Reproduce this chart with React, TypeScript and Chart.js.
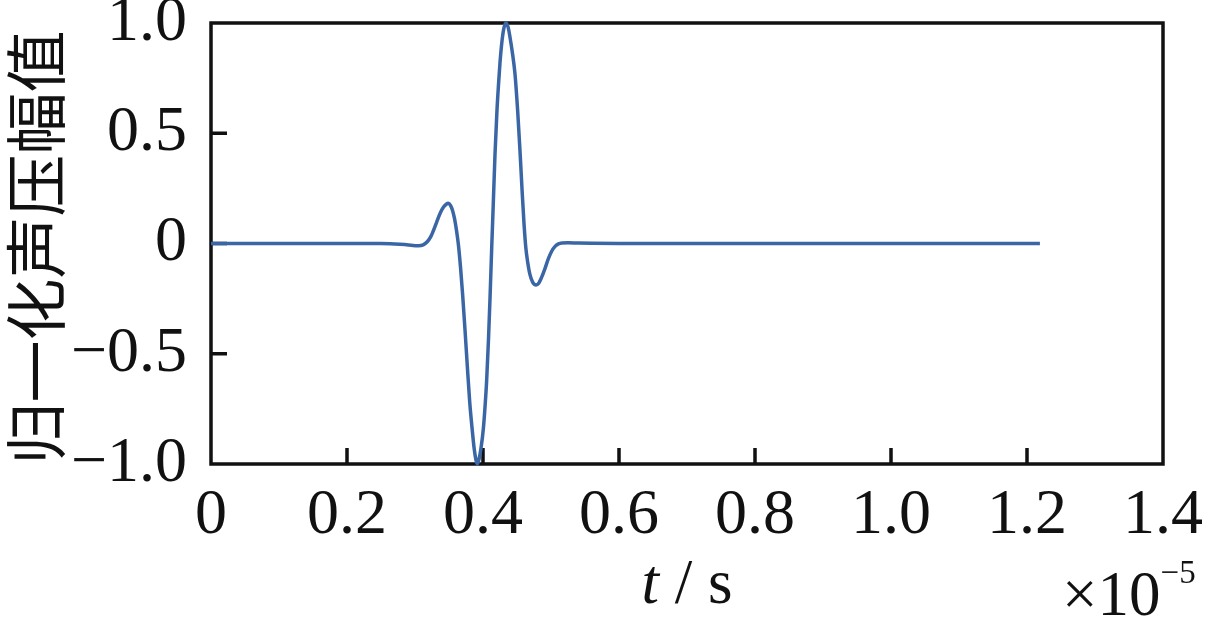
import React, { useEffect, useRef } from 'react';
import { Chart, registerables } from 'chart.js';

Chart.register(...registerables);

// time (×10^-5 s)
const timeValues = [
  0, 0.05, 0.1, 0.15, 0.2, 0.25, 0.27, 0.285, 0.297, 0.305, 0.312, 0.318, 0.323, 0.327,
  0.332, 0.337, 0.342, 0.346, 0.349, 0.352, 0.355, 0.358, 0.361, 0.364, 0.367, 0.37,
  0.3735, 0.377, 0.3805, 0.384, 0.387, 0.3895, 0.3916, 0.394, 0.397, 0.4005, 0.403,
  0.4054, 0.408, 0.4103, 0.4128, 0.415, 0.4176, 0.4205, 0.423, 0.425, 0.428, 0.431,
  0.4338, 0.437, 0.44, 0.443, 0.447, 0.451, 0.4544, 0.4575, 0.4603, 0.463, 0.4655,
  0.469, 0.473, 0.478, 0.482, 0.486, 0.491, 0.496, 0.501, 0.506, 0.511, 0.516, 0.525,
  0.54, 0.56, 0.6, 0.7, 0.8, 0.9, 1.0, 1.1, 1.219,
];

// normalized sound pressure amplitude
const amplitudeValues = [
  0, 0, 0, 0, 0, 0, -0.002, -0.005, -0.009, -0.01, -0.006, 0.008, 0.03, 0.058,
  0.098, 0.137, 0.165, 0.178, 0.182, 0.174, 0.152, 0.115, 0.06, -0.01, -0.11, -0.23,
  -0.39, -0.56, -0.72, -0.84, -0.93, -0.98, -1.0, -0.98, -0.93, -0.84, -0.74,
  -0.62, -0.44, -0.25, -0.02, 0.17, 0.4, 0.6, 0.73, 0.82, 0.92, 0.98,
  1.0, 0.98, 0.93, 0.87, 0.77, 0.6, 0.42, 0.24, 0.09, -0.02, -0.08,
  -0.14, -0.175, -0.188, -0.18, -0.155, -0.115, -0.07, -0.035, -0.013, -0.002, 0.002, 0.003,
  0.002, 0.001, 0, 0, 0, 0, 0, 0, 0,
];

const xTickValues = [0, 0.2, 0.4, 0.6, 0.8, 1.0, 1.2, 1.4];
const xTickLabels = ['0', '0.2', '0.4', '0.6', '0.8', '1.0', '1.2', '1.4'];
const yTickValues = [-1, -0.5, 0, 0.5, 1];
const yTickLabels = ['\u22121.0', '\u22120.5', '0', '0.5', '1.0'];

const yAxisTitle = '归一化声压幅值';
const xTitleVar = 't';
const xTitleRest = ' / s';
const exponentBase = '×10';
const exponentPower = '\u22125';

const SERIF = '"Liberation Serif", "Times New Roman", serif';

export default function App() {
  const canvasRef = useRef<HTMLCanvasElement | null>(null);

  useEffect(() => {
    const canvas = canvasRef.current;
    if (!canvas) return;

    const decorPlugin = {
      id: 'decor',
      beforeDatasetsDraw(chart: any) {
        const { ctx, chartArea, scales } = chart;
        const { left, right, top, bottom } = chartArea;
        ctx.save();
        ctx.strokeStyle = '#111';
        ctx.lineWidth = 3.5;
        ctx.strokeRect(left, top, right - left, bottom - top);
        const tl = 16;
        ctx.beginPath();
        xTickValues.forEach((v) => {
          const px = scales.x.getPixelForValue(v);
          if (Math.abs(px - left) < 2 || Math.abs(px - right) < 2) return;
          ctx.moveTo(px, bottom);
          ctx.lineTo(px, bottom - tl);
        });
        yTickValues.forEach((v) => {
          const py = scales.y.getPixelForValue(v);
          if (Math.abs(py - top) < 2 || Math.abs(py - bottom) < 2) return;
          ctx.moveTo(left, py);
          ctx.lineTo(left + tl, py);
        });
        ctx.stroke();
        ctx.restore();
      },
      afterDraw(chart: any) {
        const { ctx, chartArea } = chart;
        ctx.save();
        ctx.fillStyle = '#111';
        // y title
        ctx.translate(36, (chartArea.top + chartArea.bottom) / 2 + 4);
        ctx.rotate(-Math.PI / 2);
        ctx.font = '62px "Noto Sans CJK SC"';
        ctx.textAlign = 'center';
        ctx.textBaseline = 'middle';
        ctx.fillText(yAxisTitle, 0, 0);
        ctx.restore();

        ctx.save();
        ctx.fillStyle = '#111';
        ctx.textBaseline = 'alphabetic';
        ctx.textAlign = 'left';
        const fItal = `italic 63px ${SERIF}`;
        const fNorm = `63px ${SERIF}`;
        ctx.font = fItal;
        const w1 = ctx.measureText(xTitleVar).width;
        ctx.font = fNorm;
        const w2 = ctx.measureText(xTitleRest).width;
        const cx = (chartArea.left + chartArea.right) / 2;
        const x0 = cx - (w1 + w2) / 2;
        ctx.font = fItal;
        ctx.fillText(xTitleVar, x0, 603);
        ctx.font = fNorm;
        ctx.fillText(xTitleRest, x0 + w1, 603);

        // exponent
        ctx.font = `63px ${SERIF}`;
        ctx.fillText(exponentBase, 1062, 615);
        const wb = ctx.measureText(exponentBase).width;
        ctx.font = `33px ${SERIF}`;
        ctx.fillText(exponentPower, 1062 + wb, 583);
        ctx.restore();
      },
    };

    const zeroPad = (scale: any) => {
      scale.paddingTop = 0;
      scale.paddingBottom = 0;
      scale.paddingLeft = 0;
      scale.paddingRight = 0;
    };

    const chart = new Chart(canvas, {
      type: 'line',
      data: {
        datasets: [
          {
            data: timeValues.map((t, i) => ({ x: t, y: amplitudeValues[i] })),
            borderColor: '#3b66a6',
            borderWidth: 3.5,
            pointRadius: 0,
            fill: false,
            cubicInterpolationMode: 'monotone',
            clip: false as any,
          },
        ],
      },
      options: {
        responsive: false,
        animation: false,
        layout: { padding: { left: 0, right: 47, top: 23, bottom: 0 } },
        plugins: { legend: { display: false }, tooltip: { enabled: false } },
        scales: {
          x: {
            type: 'linear',
            min: 0,
            max: 1.4,
            afterBuildTicks: (scale: any) => {
              scale.ticks = xTickValues.map((v) => ({ value: v }));
            },
            afterFit: (scale: any) => {
              scale.height = 153;
              zeroPad(scale);
            },
            grid: { display: false, drawTicks: false },
            border: { display: false },
            ticks: {
              padding: 14,
              color: '#111',
              font: { family: SERIF, size: 64 },
              maxRotation: 0,
              autoSkip: false,
              callback: (v: any) => {
                const i = xTickValues.findIndex((t) => Math.abs(t - Number(v)) < 1e-9);
                return i >= 0 ? xTickLabels[i] : '';
              },
            },
          },
          y: {
            type: 'linear',
            min: -1,
            max: 1,
            afterBuildTicks: (scale: any) => {
              scale.ticks = yTickValues.map((v) => ({ value: v }));
            },
            afterFit: (scale: any) => {
              scale.width = 211;
              zeroPad(scale);
            },
            grid: { display: false, drawTicks: false },
            border: { display: false },
            ticks: {
              padding: 24,
              color: '#111',
              font: { family: SERIF, size: 64 },
              autoSkip: false,
              callback: (v: any) => {
                const i = yTickValues.findIndex((t) => Math.abs(t - Number(v)) < 1e-9);
                return i >= 0 ? yTickLabels[i] : '';
              },
            },
          },
        },
      },
      plugins: [decorPlugin],
    } as any);

    return () => chart.destroy();
  }, []);

  return (
    <div style={{ position: 'absolute', left: 0, top: 0, width: 1210, height: 617, background: '#fff' }}>
      <canvas ref={canvasRef} width={1210} height={617} style={{ display: 'block' }} />
    </div>
  );
}
